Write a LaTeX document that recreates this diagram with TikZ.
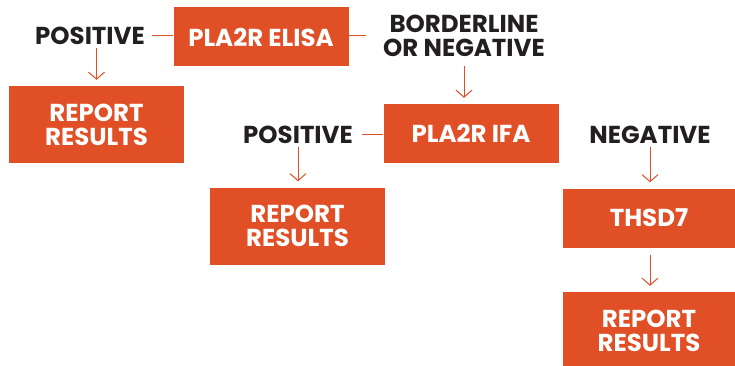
\documentclass[tikz,border=0pt]{standalone}
\usepackage{fontspec}
\setmainfont{Poppins}
\usetikzlibrary{arrows.meta}
\definecolor{flowred}{HTML}{E04F25}
\definecolor{flowink}{HTML}{231F20}

\begin{document}
\begin{tikzpicture}[x=1pt,y=-1pt,
  box/.style={fill=flowred,text=white,minimum width=175pt,minimum height=59pt,
    align=center,font=\fontsize{24.5}{24}\selectfont\bfseries},
  result/.style={box,minimum height=77pt},
  lbl/.style={text=flowink,align=center,font=\fontsize{24.5}{24}\selectfont\bfseries},
  link/.style={draw=flowred,line width=1pt},
  arr/.style={link,-{Straight Barb[length=7pt,width=16pt]},shorten >=6pt}]
\useasboundingbox (0,0) rectangle (735,366);
% first test
\node[box] (elisa) at (261,37) {PLA2R ELISA};
\node[lbl] (pos1) at (90,36) {POSITIVE};
\node[lbl] (border) at (464,36) {BORDERLINE\\OR NEGATIVE};
\node[result] (rep1) at (96.5,124.5) {REPORT\\RESULTS};
% second test
\node[box] (ifa) at (471,133.5) {PLA2R IFA};
\node[lbl] (pos2) at (298,135) {POSITIVE};
\node[result] (rep2) at (297.5,226) {REPORT\\RESULTS};
\node[lbl] (neg) at (650,135) {NEGATIVE};
% third test
\node[box,minimum width=172pt] (thsd) at (649,218) {THSD7};
\node[result,minimum width=172pt] (rep3) at (649,330.5) {REPORT\\RESULTS};
% connectors
\draw[link,shorten <=4pt] (pos1.east) -- (elisa.west |- pos1.east);
\draw[link,shorten >=14pt] (elisa.east |- border.west) -- (border.west);
\draw[arr] (pos1.south -| rep1.north) -- (rep1.north);
\draw[arr,shorten <=6pt] (border.south) -- (border.south |- ifa.north);
\draw[link,shorten <=6pt] (pos2.east) -- (ifa.west |- pos2.east);
\draw[arr] (pos2.south) -- (rep2.north -| pos2.south);
\draw[arr] (neg.south) -- (thsd.north -| neg.south);
\draw[arr,shorten <=7pt] (thsd.south -| neg.south) -- (rep3.north -| neg.south);
\end{tikzpicture}
\end{document}
